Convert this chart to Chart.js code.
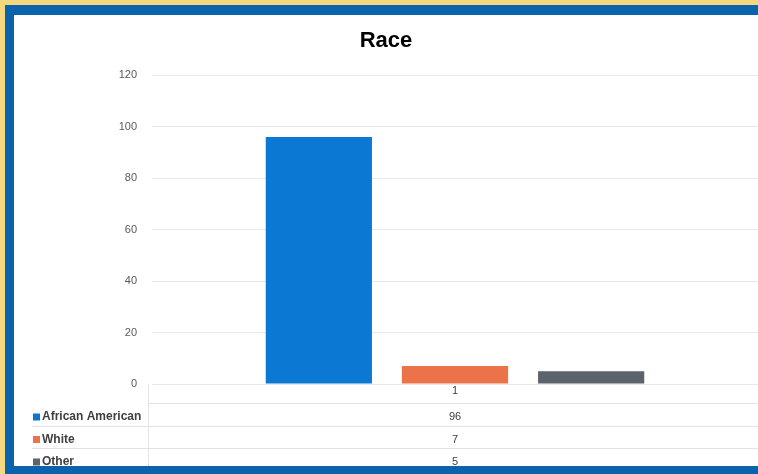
<!DOCTYPE html>
<html lang="en">
<head>
<meta charset="UTF-8">
<script src="https://cdn.jsdelivr.net/npm/chart.js"></script>
<title>Race</title>
<style>
    html, body { margin: 0; padding: 0; background: #fff; }
    #outer { width: 758px; height: 474px; box-sizing: border-box;
             border-left: 5px solid #f5d77f; border-top: 5px solid #f5d77f; }
    #frame { width: 753px; height: 469px; box-sizing: border-box; background: #fff;
             border-left: 9px solid #0b63ad; border-top: 10px solid #0b63ad; border-bottom: 8px solid #0b63ad; }
    #box { width: 744px; height: 451px; position: relative; }
</style>
</head>
<body>
<div id="outer"><div id="frame"><div id="box"><canvas id="myChart"></canvas></div></div></div>
<script>
    var categories = ['1'];
    var seriesNames = ['African American', 'White', 'Other'];
    var africanAmerican = [96];
    var white = [7];
    var other = [5];
    var yTicks = [0, 20, 40, 60, 80, 100, 120];
    var colors = ['#0b79d4', '#ec7349', '#5b636c'];

    var allSeries = [africanAmerican, white, other];

    // Excel style data table under the plot
    var dataTable = {
        id: 'dataTable',
        afterDraw: function (chart) {
            var ctx = chart.ctx;
            var area = chart.chartArea;
            var xs = chart.scales.x;
            var rowH = 22.5;
            var top = area.bottom;
            var lineX = area.left - 4;
            ctx.save();
            ctx.strokeStyle = '#e3e3e3';
            ctx.lineWidth = 1;
            ctx.beginPath();
            ctx.moveTo(lineX + 0.5, top);
            ctx.lineTo(lineX + 0.5, chart.height);
            ctx.stroke();
            for (var r = 0; r < 4; r++) {
                var y = Math.round(top + 19 + r * rowH) + 0.5;
                ctx.beginPath();
                ctx.moveTo(r == 0 ? lineX : 18, y);
                ctx.lineTo(area.right, y);
                ctx.stroke();
            }
            ctx.fillStyle = '#404040';
            ctx.font = '11px "Liberation Sans", Arial, sans-serif';
            ctx.textAlign = 'center';
            ctx.textBaseline = 'middle';
            for (var i = 0; i < categories.length; i++) {
                ctx.fillText(categories[i], xs.getPixelForValue(i), top + 7);
            }
            for (var s = 0; s < seriesNames.length; s++) {
                var cy = top + 33 + s * rowH;
                ctx.fillStyle = colors[s];
                ctx.fillRect(19, cy - 3.5, 7, 7);
                ctx.fillStyle = '#404040';
                ctx.textAlign = 'left';
                ctx.font = 'bold 12px "Liberation Sans", Arial, sans-serif';
                ctx.fillText(seriesNames[s], 28, cy);
                ctx.textAlign = 'center';
                ctx.font = '11px "Liberation Sans", Arial, sans-serif';
                for (var j = 0; j < categories.length; j++) {
                    ctx.fillText(String(allSeries[s][j]), xs.getPixelForValue(j), cy);
                }
            }
            ctx.restore();
        }
    };

    var ctx = document.getElementById('myChart').getContext('2d');
    var chart = new Chart(ctx, {
        type: 'bar',
        data: {
            labels: categories,
            datasets: seriesNames.map(function (name, i) {
                return {
                    label: name,
                    data: allSeries[i],
                    backgroundColor: colors[i],
                    borderWidth: 0,
                    categoryPercentage: 0.674,
                    barPercentage: 0.78
                };
            })
        },
        options: {
            responsive: true,
            maintainAspectRatio: false,
            animation: false,
            layout: { padding: { left: 0, right: 0, top: 0, bottom: 74 } },
            plugins: {
                legend: { display: false },
                tooltip: { enabled: false },
                title: {
                    display: true,
                    text: 'Race',
                    color: '#000',
                    font: { family: '"Liberation Sans", Arial, sans-serif', size: 22, weight: 'bold' },
                    padding: { top: 13, bottom: 21 }
                }
            },
            scales: {
                x: {
                    ticks: { display: false },
                    grid: { display: false },
                    border: { display: false }
                },
                y: {
                    min: 0,
                    max: 120,
                    afterBuildTicks: function (scale) {
                        scale.ticks = yTicks.map(function (v) { return { value: v }; });
                    },
                    afterFit: function (scale) { scale.width = 138; },
                    ticks: {
                        color: '#595959',
                        padding: 15,
                        font: { family: '"Liberation Sans", Arial, sans-serif', size: 11 }
                    },
                    grid: { color: '#e8e8e8', drawTicks: false },
                    border: { display: false }
                }
            }
        },
        plugins: [dataTable]
    });
</script>
</body>
</html>
